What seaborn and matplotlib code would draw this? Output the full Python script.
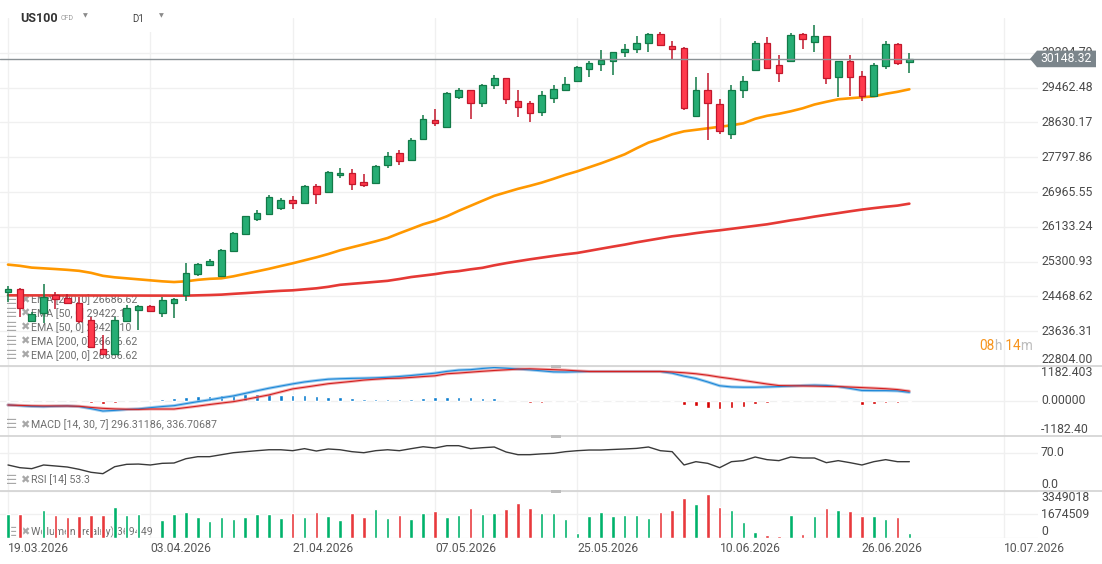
import numpy as np
import pandas as pd
import seaborn as sns
import matplotlib
matplotlib.use("Agg")
from matplotlib import pyplot as plt
from matplotlib.patches import Polygon, Rectangle
from matplotlib.lines import Line2D

W, H = 1102, 564
PLOT_RIGHT = 1038  # px where the panels stop and the price scale begins

TICK_LABELS = ['19.03.2026', '03.04.2026', '21.04.2026', '07.05.2026',
               '25.05.2026', '10.06.2026', '26.06.2026', '10.07.2026']
TICK_BARS = [0, 12, 24, 36, 48, 60, 72, 84]

OPEN = [24573, 24654, 23880, 24071, 24494, 24439, 24320, 23896, 23203, 23100,
        23872, 24152, 24231, 24080, 24320, 24511, 25013, 25229, 24956, 25554,
        25970, 26329, 26439, 26582, 26783, 26712, 27102, 26975, 27381, 27429,
        27214, 27180, 27621, 27908, 27740, 28242, 28680, 28525, 29238, 29398,
        29092, 29513, 29683, 29132, 29106, 28872, 29211, 29407, 29632, 29917,
        30020, 30087, 30304, 30376, 30529, 30749, 30465, 30410, 28783, 29415,
        29075, 28362, 29415, 29876, 30529, 30005, 30101, 30749, 30546, 30685,
        29721, 30087, 29730, 29252, 29972, 30505, 30077]
HIGH = [24709, 24662, 24095, 24757, 24573, 24535, 24454, 23975, 23554, 23975,
        24255, 24255, 24255, 24454, 24434, 25267, 25272, 25372, 25595, 26001,
        26396, 26544, 26886, 26822, 26879, 27125, 27149, 27461, 27532, 27508,
        27389, 27604, 27915, 27970, 28250, 28800, 28943, 29350, 29455, 29410,
        29541, 29762, 29697, 29398, 29147, 29374, 29520, 29714, 29972, 30101,
        30369, 30319, 30505, 30685, 30761, 30804, 30587, 30427, 29714, 29802,
        29197, 29520, 29738, 30587, 30668, 30247, 30773, 30761, 30950, 30702,
        30096, 30247, 29859, 30060, 30587, 30522, 30288]
LOW = [24334, 23975, 23856, 23824, 24176, 24279, 23824, 23227, 23059, 23083,
       23848, 23674, 24088, 23975, 23951, 24351, 24956, 25195, 24932, 25547,
       25937, 26271, 26432, 26535, 26558, 26707, 26671, 26970, 27300, 27006,
       27085, 27149, 27539, 27611, 27723, 28226, 28544, 28513, 29187, 28704,
       29010, 29431, 29068, 28766, 28630, 28783, 29092, 29398, 29613, 29721,
       29860, 29754, 30206, 30281, 30304, 30474, 30125, 28929, 28776, 28202,
       28362, 28226, 29211, 29864, 29924, 29592, 30092, 30386, 30321, 29551,
       29228, 29252, 29132, 29242, 29917, 29996, 29819]
CLOSE = [24654, 24191, 24057, 24460, 24415, 24310, 23872, 23258, 23100, 23913,
         24191, 24231, 24111, 24375, 24415, 25037, 25253, 25308, 25587, 25994,
         26384, 26472, 26838, 26783, 26702, 27118, 26927, 27453, 27429, 27166,
         27133, 27597, 27836, 27716, 28219, 28721, 28625, 29333, 29398, 29092,
         29520, 29683, 29197, 29010, 28848, 29278, 29439, 29537, 29955, 30046,
         30118, 30304, 30386, 30529, 30749, 30482, 30386, 28970, 29415, 29092,
         28420, 29415, 29632, 30529, 29941, 29802, 30725, 30627, 30685, 29697,
         30087, 29721, 29252, 30005, 30505, 30046, 30148.32]

EMA50 = [25229, 25200, 25157, 25140, 25123, 25104, 25080, 25032, 24961, 24925,
         24901, 24877, 24853, 24829, 24812, 24829, 24865, 24889, 24901, 24949,
         25009, 25068, 25128, 25195, 25260, 25332, 25403, 25482, 25571, 25643,
         25714, 25786, 25865, 25978, 26085, 26193, 26276, 26384, 26515, 26635,
         26755, 26874, 26958, 27042, 27113, 27190, 27281, 27377, 27460, 27556,
         27652, 27757, 27867, 28011, 28147, 28238, 28345, 28417, 28453, 28489,
         28525, 28561, 28608, 28716, 28788, 28836, 28896, 28967, 29058, 29123,
         29183, 29207, 29231, 29254, 29314, 29362, 29422.10]
EMA200 = [24494, 24494, 24493, 24493, 24492, 24492, 24491, 24491, 24490, 24490,
          24489, 24489, 24488, 24488, 24487, 24487, 24494, 24501, 24511, 24530,
          24547, 24566, 24585, 24602, 24614, 24638, 24662, 24698, 24746, 24770,
          24793, 24817, 24841, 24884, 24932, 24966, 25001, 25045, 25073, 25116,
          25152, 25212, 25264, 25310, 25355, 25396, 25437, 25475, 25508, 25558,
          25609, 25659, 25707, 25762, 25810, 25858, 25906, 25941, 25982, 26018,
          26049, 26085, 26121, 26157, 26193, 26240, 26288, 26329, 26377, 26420,
          26461, 26504, 26545, 26580, 26612, 26640, 26686.62]

MACD = [-136, -160, -185, -193, -180, -170, -190, -260, -342, -320,
        -290, -270, -228, -190, -159, -90, -22, 40, 110, 173,
        260, 350, 436, 510, 584, 650, 700, 744, 760, 772,
        779, 790, 810, 836, 870, 910, 950, 1010, 1055, 1070,
        1110, 1144, 1120, 1090, 1064, 1030, 995, 990, 1000, 1007,
        1007, 1007, 1007, 1007, 1007, 1007, 950, 850, 770, 650,
        520, 480, 470, 470, 480, 493, 510, 530, 540, 530,
        493, 430, 360, 355, 355, 345, 296.31]
SIGNAL = [-136, -150, -165, -170, -170, -170, -180, -220, -251, -270,
          -282, -285, -274, -274, -274, -225, -175, -120, -70, -22,
          50, 130, 207, 310, 413, 470, 530, 590, 630, 670,
          715, 745, 770, 779, 805, 835, 860, 930, 955, 985,
          1015, 1042, 1065, 1090, 1099, 1085, 1070, 1055, 1030, 1007,
          1007, 1007, 1007, 1007, 1007, 1007, 990, 965, 930, 880,
          815, 760, 700, 640, 580, 527, 520, 516, 510, 500,
          493, 475, 458, 440, 420, 390, 336.71]
HIST = [0, 0, -34, -34, 0, 0, -34, -70, -90, -60,
        -40, 0, 30, 69, 114, 137, 171, 171, 206, 206,
        240, 240, 229, 206, 206, 206, 171, 137, 137, 114,
        80, 80, 80, 57, 80, 114, 137, 137, 137, 137,
        114, 114, 34, 0, -69, -57, -45, -45, -25, 0,
        0, 0, 0, 0, 0, 0, -15, -125, -160, -230,
        -263, -230, -195, -103, -69, -35, 15, 15, 15, 0,
        -20, -45, -125, -90, -60, -60, -35]

RSI = [47.3, 42.4, 40.6, 47.3, 45.5, 43.6, 39.4, 34.0, 31.5, 44.2,
       48.5, 49.0, 47.3, 50.3, 50.9, 58.7, 62.4, 62.4, 66.0, 69.6,
       71.5, 73.3, 75.0, 75.0, 73.3, 77.0, 72.7, 76.4, 75.0, 71.5,
       69.6, 73.3, 75.0, 73.3, 77.0, 80.5, 78.2, 82.4, 82.4, 77.0,
       78.7, 80.0, 70.9, 66.0, 66.0, 67.5, 68.5, 71.5, 73.3, 74.5,
       74.5, 75.5, 76.4, 77.5, 80.0, 73.3, 71.5, 47.3, 53.3, 50.3,
       42.4, 53.3, 55.2, 61.8, 57.0, 55.2, 61.8, 60.0, 60.0, 51.5,
       55.2, 51.5, 47.3, 53.3, 57.0, 53.3, 53.3]

VOLUME = [1720000, 1720000, 70000, 1990000, 1630000, 1480000, 1560000, 1630000, 1630000, 2200000,
          1630000, 1700000, 0, 1270000, 1700000, 1840000, 1480000, 1200000, 1480000, 1340000,
          1480000, 1700000, 1700000, 1410000, 1770000, 1480000, 1840000, 1560000, 1270000, 1770000,
          1480000, 2060000, 1410000, 1630000, 1340000, 1770000, 1910000, 1480000, 1630000, 2130000,
          1700000, 1770000, 2060000, 2490000, 2130000, 1770000, 1770000, 1340000, 340000, 1560000,
          1840000, 1560000, 1630000, 1630000, 1410000, 1840000, 1990000, 2850000, 2420000, 3130000,
          2200000, 1990000, 1130000, 410000, 190000, 100000, 1630000, 260000, 1560000, 2130000,
          1990000, 1910000, 1560000, 1560000, 1340000, 1480000, 369449]

PRICE_TICKS = [22804.00, 23636.31, 24468.62, 25300.93, 26133.24,
               26965.55, 27797.86, 28630.17, 29462.48, 30294.79]
PRICE_TOP = 31127.10
MACD_TICKS = [-1182.40, 0.0, 1182.403]
MACD_LABELS = ['-1182.40', '0.00000', '1182.403']
VOL_TICKS = [0, 1674509, 3349018]

LAST_PRICE = CLOSE[-1]
EMA_LEGEND = ['EMA [200, 0] 26686.62', 'EMA [50, 0] 29422.10', 'EMA [50, 0] 29422.10',
              'EMA [200, 0] 26686.62', 'EMA [200, 0] 26686.62']
MACD_LEGEND = 'MACD [14, 30, 7] 296.31186, 336.70687'
RSI_LEGEND = 'RSI [14] 53.3'
VOL_LEGEND = 'Wolumen (realny) 369449'
COUNTDOWN = [('08', '#f7941d'), ('h', '#bdbdbd'), (' 14', '#f7941d'), ('m', '#bdbdbd')]

df = pd.DataFrame({'bar': np.arange(len(CLOSE)), 'open': OPEN, 'high': HIGH, 'low': LOW,
                   'close': CLOSE, 'ema50': EMA50, 'ema200': EMA200, 'macd': MACD,
                   'signal': SIGNAL, 'hist': HIST, 'rsi': RSI, 'volume': VOLUME})
df['up'] = df['close'] >= df['open']

sns.set_theme(style="white")
plt.rcParams['font.family'] = ['Roboto', 'DejaVu Sans']

GRID = '#f0f0f0'
LABEL = '#4a4a4a'
GREEN_FILL, GREEN_EDGE = '#26ad74', '#127a48'
RED_FILL, RED_EDGE = '#ff3a4c', '#c2182c'

fig = plt.figure(figsize=(W / 100, H / 100), dpi=100)
fig.patch.set_facecolor('white')


def fx(px):
    return px / W


def fy(py):
    return 1 - py / H


def panel(top, bottom):
    a = fig.add_axes([0, fy(bottom), fx(PLOT_RIGHT), (bottom - top) / H])
    a.set_facecolor('white')
    for s in a.spines.values():
        s.set_visible(False)
    return a


ax = panel(18, 366)
ax_macd = panel(366, 436)
ax_rsi = panel(436, 491)
ax_vol = panel(491, 537.7)


def legend_row(a, ypx, text):
    a.text(fx(6), fy(ypx), '\u2630', transform=fig.transFigure, va='center', ha='left',
           fontsize=9, color='#a8a8a8', family=['DejaVu Sans'], zorder=1)
    a.text(fx(20), fy(ypx), '\u2716', transform=fig.transFigure, va='center', ha='left',
           fontsize=8, color='#a8a8a8', family=['DejaVu Sans'], zorder=1)
    a.text(fx(31), fy(ypx), text, transform=fig.transFigure, va='center', ha='left',
           fontsize=7.7, color='#6e6e6e', zorder=1)


# ---- price panel
fill = np.where(df['up'], GREEN_FILL, RED_FILL)
edge = np.where(df['up'], GREEN_EDGE, RED_EDGE)
sns.lineplot(data=df, x='bar', y='ema50', ax=ax, color='#ff9800', lw=1.9, zorder=3, legend=False)
sns.lineplot(data=df, x='bar', y='ema200', ax=ax, color='#e53935', lw=1.9, zorder=3, legend=False)
ax.vlines(df['bar'], df['low'], df['high'], colors=edge, lw=1.1, zorder=4)
body = (df['close'] - df['open']).abs().clip(lower=35)
ax.bar(df['bar'], body, bottom=df[['open', 'close']].min(axis=1), width=0.56,
       color=fill, edgecolor=edge, linewidth=0.9, zorder=5)
ax.axhline(LAST_PRICE, color='#8a9195', lw=1.0, zorder=6)
ax.set_ylim(PRICE_TICKS[0], PRICE_TOP)
ax.set_yticks(PRICE_TICKS)
for i, row in enumerate(EMA_LEGEND):
    legend_row(ax, 300 + 13.8 * i, row)

ytr = ax.get_yaxis_transform()
lx = 1041 / PLOT_RIGHT
# the top scale label is half hidden behind the price tag, as in the app
for v in PRICE_TICKS:
    ax.text(lx, v, f'{v:.2f}', transform=ytr, ha='left',
            va='bottom' if v == PRICE_TICKS[0] else 'center',
            fontsize=8.8, color=LABEL, clip_on=False, zorder=2)

# price tag
half = 8.3 * (PRICE_TOP - PRICE_TICKS[0]) / 348
tag = Polygon([(1030 / PLOT_RIGHT, LAST_PRICE), (1037 / PLOT_RIGHT, LAST_PRICE + half),
               (1096 / PLOT_RIGHT, LAST_PRICE + half), (1096 / PLOT_RIGHT, LAST_PRICE - half),
               (1037 / PLOT_RIGHT, LAST_PRICE - half)], closed=True, transform=ytr,
              facecolor='#7b858b', edgecolor='none', clip_on=False, zorder=8)
ax.add_patch(tag)
ax.text(1066 / PLOT_RIGHT, LAST_PRICE, f'{LAST_PRICE:.2f}', transform=ytr, ha='center',
        va='center', fontsize=8.8, color='white', clip_on=False, zorder=9)

# ---- MACD panel
hist_col = np.where(df['hist'] >= 0, '#0b7dcf', '#d50000')
ax_macd.bar(df['bar'], df['hist'], width=0.3, color=hist_col, zorder=2)
sns.lineplot(data=df, x='bar', y='macd', ax=ax_macd, color='#86c0ea', lw=2.2, alpha=0.8, zorder=3, legend=False)
sns.lineplot(data=df, x='bar', y='signal', ax=ax_macd, color='#ee9090', lw=2.2, alpha=0.7, zorder=3, legend=False)
sns.lineplot(data=df, x='bar', y='macd', ax=ax_macd, color='#1e88d8', lw=0.8, zorder=4, legend=False)
sns.lineplot(data=df, x='bar', y='signal', ax=ax_macd, color='#d32020', lw=0.8, zorder=4, legend=False)
ax_macd.set_ylim(-1195, 1195)
ax_macd.set_yticks(MACD_TICKS)
mtr = ax_macd.get_yaxis_transform()
for v, s, va in zip([-1195, 0, 1195], MACD_LABELS, ['bottom', 'center', 'top']):
    ax_macd.text(lx, v, s, transform=mtr, ha='left', va=va, fontsize=8.8, color=LABEL, clip_on=False)
legend_row(ax_macd, 425, MACD_LEGEND)

# ---- RSI panel
sns.lineplot(data=df, x='bar', y='rsi', ax=ax_rsi, color='#3a3a3a', lw=1.0, zorder=3, legend=False)
ax_rsi.set_ylim(0, 100)
ax_rsi.set_yticks([0, 70])
rtr = ax_rsi.get_yaxis_transform()
ax_rsi.text(lx, 70, '70.0', transform=rtr, ha='left', va='center', fontsize=8.8, color=LABEL, clip_on=False)
ax_rsi.text(lx, 0, '0.0', transform=rtr, ha='left', va='bottom', fontsize=8.8, color=LABEL, clip_on=False)
legend_row(ax_rsi, 480, RSI_LEGEND)

# ---- volume panel
vol_col = np.where(df['up'], '#00b26b', '#e8393c')
ax_vol.bar(df['bar'], df['volume'], width=0.3, color=vol_col, zorder=3)
ax_vol.set_ylim(0, VOL_TICKS[-1])
ax_vol.set_yticks(VOL_TICKS)
vtr = ax_vol.get_yaxis_transform()
for v, va in zip(VOL_TICKS, ['bottom', 'center', 'top']):
    ax_vol.text(lx, v, str(v), transform=vtr, ha='left', va=va, fontsize=8.8, color=LABEL, clip_on=False)
legend_row(ax_vol, 532.5, VOL_LEGEND)

for a in (ax, ax_macd, ax_rsi, ax_vol):
    a.set_xlim(-8 / 11.86, (PLOT_RIGHT - 8) / 11.86)
    a.set_xticks(TICK_BARS)
    a.grid(True, color=GRID, lw=1.0, zorder=0)
    a.set_axisbelow(True)
    a.set_xlabel('')
    a.set_ylabel('')
    a.tick_params(length=0, labelleft=False, labelright=False, labelbottom=False)

ax_vol.tick_params(axis='x', labelbottom=True, pad=3, labelsize=8.7, labelcolor='#555555')
ax_vol.set_xticklabels(TICK_LABELS, ha='left')

# panel separators and drag handles
for ypx in (366, 436, 491):
    fig.add_artist(Line2D([0, 1], [fy(ypx), fy(ypx)], transform=fig.transFigure,
                          color='#d2d2d2', lw=1.2, zorder=6))
    fig.add_artist(Rectangle((fx(551), fy(ypx + 2)), fx(10), 3 / H, transform=fig.transFigure,
                             facecolor='#bdbdbd', edgecolor='none', zorder=7))

# header
fig.add_artist(Rectangle((fx(118), fy(32)), fx(64), 14 / H, transform=fig.transFigure,
                         facecolor='white', edgecolor='none', zorder=7))
fig.text(fx(20), fy(18), 'US100', fontsize=9, fontweight='bold', color='#333333', va='center', zorder=8)
fig.text(fx(61), fy(18.5), 'CFD', fontsize=5, color='#9a9a9a', va='center', zorder=8)
fig.text(fx(83), fy(16), '\u25BC', fontsize=4.5, color='#8a8a8a', va='center',
         family=['DejaVu Sans'], zorder=8)
fig.text(fx(132), fy(19), 'D1', fontsize=7, color='#444444', va='center', zorder=8)
fig.text(fx(159), fy(16), '\u25BC', fontsize=4.5, color='#8a8a8a', va='center',
         family=['DejaVu Sans'], zorder=8)

# countdown to candle close: pieces laid out one after another
renderer = fig.canvas.get_renderer()
xpx = 979
for s, c in COUNTDOWN:
    t = fig.text(fx(xpx), fy(345.5), s, fontsize=9.8, color=c, va='center', ha='left', zorder=8)
    xpx += t.get_window_extent(renderer).width

fig.savefig('out.png', dpi=100)
